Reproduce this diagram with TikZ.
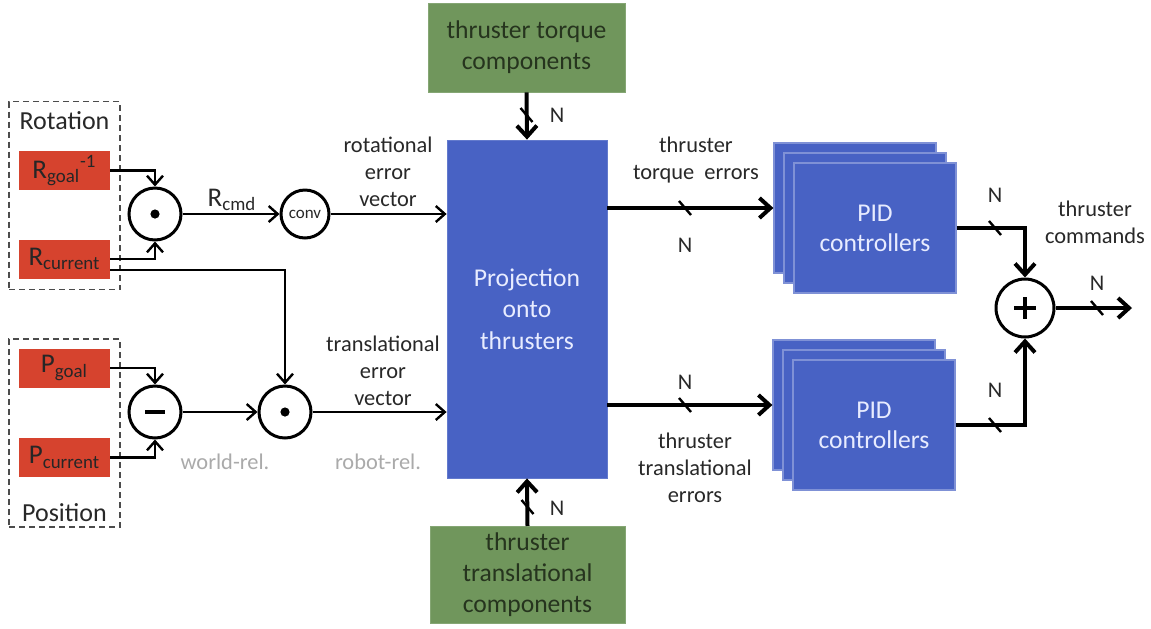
\documentclass[tikz,border=0pt]{standalone}
\usepackage{fontspec}
\setmainfont{Carlito}
\usetikzlibrary{arrows.meta,positioning}

\definecolor{boxred}{RGB}{214,67,46}
\definecolor{boxblue}{RGB}{72,98,196}
\definecolor{boxgreen}{RGB}{112,150,92}
\definecolor{inkgreen}{RGB}{38,52,30}
\definecolor{inkblue}{RGB}{232,236,255}
\definecolor{inkgray}{RGB}{40,40,40}
\definecolor{faded}{RGB}{170,170,170}

\newcommand{\busmark}[1]{\draw[line width=1.2pt] (#1) ++(-6,-7) -- ++(12,14);}

\begin{document}
\begin{tikzpicture}[x=0.5pt, y=-0.5pt, font=\fontsize{11.2}{13.5}\selectfont, text=inkgray,
        grp/.style={rectangle, draw=black!70, densely dashed, line width=0.8pt, minimum width=55.5pt, minimum height=94pt},
        statebox/.style={rectangle, fill=boxred, minimum width=45.5pt, minimum height=19.5pt, inner sep=0pt, font=\fontsize{13.5}{15}\selectfont, text=black!85},
        opnode/.style={circle, draw=black, line width=1.5pt, minimum size=26pt, inner sep=0pt},
        dotop/.style={opnode, path picture={\fill[black] (path picture bounding box.center) circle (2.3pt);}},
        minusop/.style={opnode, path picture={\fill[black] ([xshift=-5pt,yshift=-1.2pt]path picture bounding box.center) rectangle ([xshift=5pt,yshift=1.2pt]path picture bounding box.center);}},
        plusop/.style={opnode, minimum size=29pt, path picture={\fill[black] ([xshift=-5.5pt,yshift=-1.1pt]path picture bounding box.center) rectangle ([xshift=5.5pt,yshift=1.1pt]path picture bounding box.center);
            \fill[black] ([xshift=-1.1pt,yshift=-5.5pt]path picture bounding box.center) rectangle ([xshift=1.1pt,yshift=5.5pt]path picture bounding box.center);}},
        projblock/.style={rectangle, fill=boxblue, draw=boxblue!85!white, minimum width=80pt, minimum height=169pt, text=inkblue, align=center, font=\fontsize{12.8}{15.75}\selectfont},
        pidblock/.style={rectangle, fill=boxblue, draw=boxblue!70!white, line width=0.6pt, minimum width=81pt, minimum height=65pt, text=inkblue, align=center, font=\fontsize{12.8}{15}\selectfont},
        compblock/.style={rectangle, fill=boxgreen, draw=boxgreen!85!white, text=inkgreen, align=center, font=\fontsize{12.8}{15.5}\selectfont},
        tline/.style={-{Straight Barb[length=4.5pt,width=8pt]}, line width=1.2pt},
        bline/.style={-{Straight Barb[length=5.5pt,width=10pt]}, line width=2pt},
        faint/.style={text=faded}]

    \path[use as bounding box, fill=white] (0,0) rectangle (1151,628);

    \node[grp] (rotgrp) at (64.5,195.5) {};
    \node[grp] (posgrp) at (64.5,433) {};
    \node[font=\fontsize{13}{15}\selectfont] (rotlbl) at (64.5,121) {Rotation};
    \node[font=\fontsize{13}{15}\selectfont] (poslbl) at (64.5,513) {Position};

    \node[statebox] (rgoal) at (64.5,170.5) {R\textsubscript{goal}\textsuperscript{-1}};
    \node[statebox] (rcur) at (64.5,259) {R\textsubscript{current}};
    \node[statebox] (pgoal) at (64.5,368) {P\textsubscript{goal}};
    \node[statebox] (pcur) at (64.5,457.5) {P\textsubscript{current}};

    \node[dotop] (mult1) at (155,214) {};
    \node[opnode, minimum size=24pt, font=\fontsize{8.5}{10}\selectfont] (conv) at (305,214) {conv};
    \node[minusop] (diff) at (155,412) {};
    \node[dotop] (mult2) at (285,412) {};

    \node[projblock] (proj) at (527,309) {Projection\\onto\\thrusters};
    \node[compblock, minimum width=98.5pt, minimum height=44.5pt] (torqcomp) at (526.5,47.5) {thruster torque\\components};
    \node[compblock, minimum width=97.5pt, minimum height=48pt] (transcomp) at (527.5,575) {thruster\\translational\\components};

    \node[pidblock] (pidtopback) at (855,208) {};
    \node[pidblock] (pidtopmid) at (865,218) {};
    \node[pidblock] (pidtop) at (875,228) {PID\\controllers};
    \node[pidblock] (pidbotback) at (854,405) {};
    \node[pidblock] (pidbotmid) at (864,415) {};
    \node[pidblock] (pidbot) at (874,425) {PID\\controllers};

    \node[plusop] (sum) at (1025,308) {};
    \coordinate (out) at (1132,308);

    \node[font=\fontsize{13.5}{15}\selectfont] (rcmd) at (232,200) {R\textsubscript{cmd}};
    \node[align=center] (rotvec) at (388,172) {rotational\\error\\vector};
    \node[align=center] (transvec) at (383,371) {translational\\error\\vector};
    \node[faint] (worldrel) at (225,462) {world-rel.};
    \node[faint] (robotrel) at (378,462) {robot-rel.};
    \node[align=center] (torqerr) at (696,160) {thruster\\torque\ \ errors};
    \node[align=center] (transerr) at (695,468) {thruster\\translational\\errors};
    \node[align=center] (cmds) at (1095,222) {thruster\\commands};

    \node (ntop) at (557,115) {N};
    \node (nbot) at (557,508) {N};
    \node (ntorq) at (685,245) {N};
    \node (ntrans) at (685,382) {N};
    \node (npidtop) at (995,195) {N};
    \node (npidbot) at (995,390) {N};
    \node (nout) at (1097,283) {N};

    \draw[tline] (rgoal.east) -| (mult1.north);
    \draw[tline] (rcur.east) -| (mult1.south);
    \draw[tline] ([yshift=-5.5pt]rcur.east) -| (mult2.north);
    \draw[tline] (pgoal.east) -| (diff.north);
    \draw[tline] (pcur.east) -| (diff.south);
    \draw[tline] (mult1) -- (conv);
    \draw[tline] (conv) -- (conv -| proj.west);
    \draw[tline] (diff) -- (mult2);
    \draw[tline] (mult2) -- (mult2 -| proj.west);

    \draw[bline] (torqcomp.south) -- (proj.north);
    \draw[bline] (transcomp.north) -- (proj.south);
    \draw[bline] (proj.east |- pidtopback.west) -- (pidtopback.west);
    \draw[bline] (proj.east |- pidbotback.west) -- (pidbotback.west);
    \draw[bline] (pidtop.east) -| (sum.north);
    \draw[bline] (pidbot.east) -| (sum.south);
    \draw[bline] (sum) -- (out);

    \busmark{526.5,115}
    \busmark{527.5,507}
    \busmark{685,208}
    \busmark{685,405}
    \busmark{995,228}
    \busmark{995,425}
    \busmark{1097,308}
\end{tikzpicture}
\end{document}
